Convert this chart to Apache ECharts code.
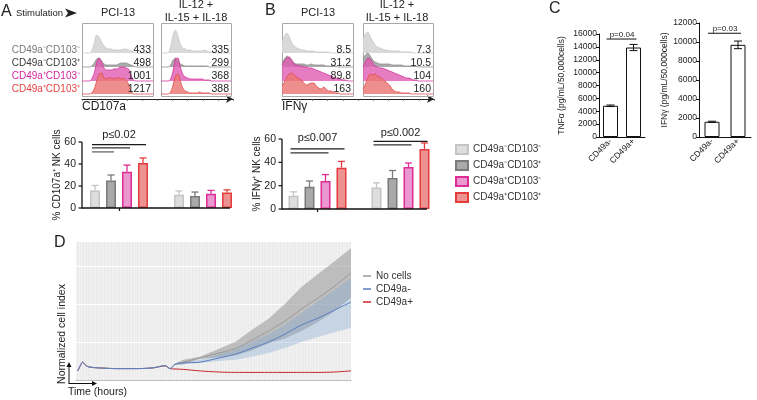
<!DOCTYPE html>
<html><head><meta charset="utf-8">
<script src="https://cdn.jsdelivr.net/npm/echarts@6/dist/echarts.min.js"></script>
<style>html,body{margin:0;padding:0;background:#fff}#c{width:757px;height:400px}</style>
</head><body><div id="c"></div>
<script>
// ================= DATA =================
const histCategories = ['CD49a⁻CD103⁻','CD49a⁻CD103⁺','CD49a⁺CD103⁻','CD49a⁺CD103⁺'];
const stimulations = ['PCI-13','IL-12 + IL-15 + IL-18'];
// histogram densities (30 bins, rows top to bottom)
const histA_PCI = [
 [0,0,0,0,2,10,18,16,11,7,5,4,4,3,3,3,3,4,4,3,2,1,0,0,0,0,0,0,0,0],
 [0,0,0,0,1,4,8,9,6,3,2,2,2,2,2,3,4,4,4,3,2,1,0,0,0,0,0,0,0,0],
 [0,0,0,0,2,8,18,23,19,13,11,11,11,12,12,13,14,14,13,12,6,1,0,0,0,0,0,0,0,0],
 [0,0,0,0,1,5,13,20,21,16,15,16,16,15,16,16,15,16,14,10,3,0,0,0,0,0,0,0,0,0]];
const histA_IL = [
 [0,0,0,0,6,18,23,17,9,5,4,3,3,2,2,2,2,2,3,2,1,1,0,0,0,0,0,0,0,0],
 [0,0,0,0,2,7,9,6,3,2,1,1,1,1,1,1,1,1,1,1,0,0,0,0,0,0,0,0,0,0],
 [0,0,0,0,2,10,22,23,14,7,4,3,2,2,2,2,2,2,1,1,1,0,0,0,0,0,0,0,0,0],
 [0,0,0,0,2,9,18,20,13,6,3,2,1,1,1,1,2,1,1,1,1,0,0,0,0,0,0,0,0,0]];
const histB_PCI = [
 [12,17,20,16,10,7,5,4,3,3,2,2,2,2,1,1,1,1,1,1,0,0,0,0,0,0,0,0,0,0],
 [5,8,11,9,6,4,3,3,3,3,2,2,3,2,2,2,2,2,1,1,1,1,1,0,0,0,0,0,0,0],
 [16,20,23,24,21,17,16,15,15,14,14,13,13,12,11,10,9,8,7,6,5,4,3,2,2,1,1,0,0,0],
 [8,12,17,20,21,19,17,15,14,11,9,10,11,11,8,6,5,7,5,3,3,2,1,1,0,0,0,0,0,0]];
const histB_IL = [
 [14,19,21,16,12,8,6,5,4,3,3,2,2,2,2,2,1,1,1,1,1,0,0,0,0,0,0,0,0,0],
 [8,12,14,11,7,5,4,3,3,3,3,3,2,2,2,2,2,1,1,1,1,1,1,0,0,0,0,0,0,0],
 [14,19,23,22,18,15,14,13,13,12,11,10,9,8,7,6,5,4,3,3,2,1,1,0,0,0,0,0,0,0],
 [5,10,16,20,19,20,18,17,15,13,11,9,5,3,2,2,1,1,1,1,0,0,0,0,0,0,0,0,0,0]];
const mfiA_PCI = ['433','498','1001','1217'];
const mfiA_IL  = ['335','299','368','388'];
const mfiB_PCI = ['8.5','31.2','89.8','163'];
const mfiB_IL  = ['7.3','10.5','104','160'];

// % positive NK cells (mean, SEM) per subset
const pctTicks = [0,20,40,60];
const cd107aPCI = [16,25,33,41];      const cd107aPCIErr = [4.5,5,6,4.5];
const cd107aIL  = [12,11,13,14];      const cd107aILErr  = [3.5,3.5,3,2.5];
const ifngPCI   = [11.3,19,24,35.4];  const ifngPCIErr   = [3.4,5,5.5,5.4];
const ifngIL    = [18.4,26.6,36,51.5];const ifngILErr    = [4,6.4,3.4,5.1];
// significance brackets: [group, fromSubset, toSubset, y]
const sigA = [[0,0,3,57.6],[0,0,2,54.6],[0,0,1,51]];
const sigB = [[0,0,3,51.5],[0,0,2,48.1],[1,0,3,58],[1,0,2,54.9]];
const pTextA = [[0,66.5,'p≤0.02']];
const pTextB = [[0,60.5,'p≤0.007'],[1,65.5,'p≤0.002']];

// panel C
const cCategories = ['CD49a-','CD49a+'];
const tnfaVals = [4850,13900]; const tnfaErr = [120,480];
const ifngVals = [1600,9700];  const ifngErr = [60,400];
const tnfaSig = [[0,1,15220]]; const tnfaP = [[0.5,15850,'p=0.04']];
const ifngSig = [[0,1,10920]]; const ifngP = [[0.5,11440,'p=0.03']];

// panel D (normalized cell index over time)
const times    = [0.6,1.5,2.4,3.6,5,8,15,22,28,32.4,34.2,36,39,45,52,58,64,70,76,82,88,94,100];
const noCells  = [0.24,0.37,0.46,0.38,0.34,0.32,0.30,0.30,0.32,0.38,0.30,0.42,0.47,0.58,0.71,0.83,1.05,1.29,1.55,1.87,2.16,2.47,2.82];
const cd49aNeg = [0.24,0.37,0.47,0.38,0.34,0.32,0.30,0.30,0.32,0.38,0.30,0.41,0.45,0.47,0.58,0.68,0.84,1.00,1.21,1.45,1.63,1.84,2.05];
const cd49aPos = [0.24,0.36,0.47,0.38,0.34,0.32,0.30,0.30,0.32,0.37,0.30,0.29,0.28,0.24,0.21,0.20,0.20,0.20,0.20,0.20,0.20,0.21,0.24];
const bandTimes = [34.2,36,39,45,52,58,64,70,76,82,88,94,100];
const noCellsUpper  = [0.30,0.43,0.53,0.61,0.82,1.01,1.32,1.61,2.01,2.45,2.79,3.13,3.47];
const noCellsLower  = [0.30,0.41,0.41,0.55,0.60,0.65,0.78,0.97,1.09,1.29,1.53,1.81,2.17];
const cd49aNegUpper = [0.30,0.42,0.46,0.53,0.68,0.80,1.00,1.20,1.45,1.76,2.07,2.37,2.68];
const cd49aNegLower = [0.30,0.39,0.42,0.45,0.50,0.53,0.61,0.71,0.84,1.00,1.13,1.26,1.37];
const dSeriesNames = ['No cells','CD49a-','CD49a+'];

// ================= CHART =================
const FONT = '"Liberation Sans", Arial, Helvetica, sans-serif';
const plain = v => String(v);
const grids=[], xAxes=[], yAxes=[], series=[], graphics=[];
function addGrid(g){ g.outerBoundsMode='none'; g.containLabel=false; grids.push(g); return grids.length-1; }
function txt(x,y,text,o){ o=o||{}; return {type:'text', x, y, rotation:o.rot||0, z:50, silent:true,
  style:{text, fontSize:o.size||10, fontFamily:FONT, fill:o.color||'#222', align:o.align||'left', verticalAlign:o.va||'middle'}}; }

// ---- histograms ----
const boxes = [
 {data:histA_PCI, mfi:mfiA_PCI, left:82, width:71},{data:histA_IL, mfi:mfiA_IL, left:161, width:70},
 {data:histB_PCI, mfi:mfiB_PCI, left:282, width:71},{data:histB_IL, mfi:mfiB_IL, left:363, width:70}];
const rowBase = [53,67,81,94], HH = 26, rowTextY = [50,63,76,89];
const histFill = ['rgba(215,215,215,0.95)','rgba(150,150,150,0.8)','rgba(224,92,180,0.8)','rgba(234,118,116,0.82)'];
const histLine = ['#c6c6c6','#8c8c8c','#d2309c','#e04a4a'];
boxes.forEach((b)=>{
  graphics.push({type:'rect', z:1, silent:true, shape:{x:b.left+0.5,y:23.5,width:b.width,height:73}, style:{fill:'none',stroke:'#a8a8a8',lineWidth:1}});
  b.data.forEach((vals,r)=>{
    const gi = addGrid({left:b.left, top:rowBase[r]-HH, width:b.width, height:HH});
    xAxes.push({gridIndex:gi, type:'value', min:0, max:vals.length-1, show:false});
    yAxes.push({gridIndex:gi, type:'value', min:0, max:HH, show:false});
    series.push({type:'line', xAxisIndex:gi, yAxisIndex:gi, silent:true, clip:false, symbol:'none', smooth:0.25,
      data: vals.map((v,i)=>[i,v]), lineStyle:{color:histLine[r], width:0.8}, areaStyle:{color:histFill[r], opacity:1}});
  });
  b.mfi.forEach((m,r)=>graphics.push(txt(b.left+b.width-2, rowTextY[r], m, {size:10.5, align:'right'})));
});
[[82,151],[282,152]].forEach(([l,w])=>{
  const gi = addGrid({left:l, top:60, width:w, height:39});
  xAxes.push({gridIndex:gi, type:'value', min:0, max:50, interval:5,
    axisLine:{show:true, lineStyle:{color:'#222',width:1}, symbol:['none','arrow'], symbolSize:[6,7]},
    axisTick:{show:true, length:2, lineStyle:{color:'#555',width:0.7}}, axisLabel:{show:false}, splitLine:{show:false}});
  yAxes.push({gridIndex:gi, type:'value', min:0, max:1, show:false});
});
const rowColors = ['#777','#3a3a3a','#d6249a','#e8413f'];
histCategories.forEach((c,r)=>graphics.push(txt(80, rowTextY[r], c, {size:10, align:'right', color:rowColors[r]})));

// ---- bar charts A / B ----
const barFill = ['#dedede','#a9a9a9','#eb97d0','#ec9290'];
const barBorder = ['#c4c4c4','#7a7a7a','#dd2c94','#e43c3c'];
const barOff = [-24,-8,8,24];
function addBarChart(cfg){
  const gi = addGrid({left:cfg.left, top:cfg.top, width:cfg.width, height:cfg.height});
  xAxes.push({gridIndex:gi, type:'category', data:stimulations, boundaryGap:true,
    axisLine:{show:false}, axisTick:{show:true, alignWithLabel:true,length:3,lineStyle:{color:'#111',width:1.2}}, axisLabel:{show:false}});
  yAxes.push({gridIndex:gi, type:'value', min:pctTicks[0], max:pctTicks[pctTicks.length-1], show:false});
  // y axis (line, ticks, labels, name) and x axis line drawn from the grid's own scale
  series.push({type:'custom', name:'yaxis', xAxisIndex:gi, yAxisIndex:gi, silent:true, clip:false, z:4,
    data:pctTicks.map(v=>[0,v]), encode:{x:0,y:1},
    renderItem:(p,api)=>{
      const x0 = p.coordSys.x + cfg.axisDx; const v = api.value(1); const y = api.coord([0,v])[1];
      const ch = [
        {type:'line', shape:{x1:x0-3.5,y1:y,x2:x0,y2:y}, style:{stroke:'#111',lineWidth:1.2}},
        {type:'text', x:x0-6, y:y, style:{text:String(v), fontSize:10.5, fill:'#222', fontFamily:FONT, align:'right', verticalAlign:'middle'}}];
      if(p.dataIndex===0){
        const yTop = api.coord([0,pctTicks[pctTicks.length-1]])[1];
        ch.push({type:'line', shape:{x1:x0,y1:y+0.6,x2:x0,y2:yTop}, style:{stroke:'#111',lineWidth:1.3}});
        ch.push({type:'line', shape:{x1:x0,y1:y,x2:x0+cfg.axisWidth,y2:y}, style:{stroke:'#111',lineWidth:1.3}});
        ch.push({type:'text', x:x0-25, y:(y+yTop)/2, rotation:Math.PI/2,
          style:{text:cfg.yName, fontSize:10, fill:'#222', fontFamily:FONT, align:'center', verticalAlign:'middle'}});
      }
      return {type:'group', children:ch}; }});
  for(let i=0;i<4;i++) series.push({type:'bar', name:histCategories[i], xAxisIndex:gi, yAxisIndex:gi, barWidth:10, barGap:'60%',
      data:[cfg.pci[i], cfg.il[i]], itemStyle:{color:barFill[i], borderColor:barBorder[i], borderWidth:1.5}, silent:true});
  for(let i=0;i<4;i++){
    const off = barOff[i], col = barBorder[i];
    series.push({type:'custom', name:'err'+i, xAxisIndex:gi, yAxisIndex:gi, silent:true, clip:false, z:3,
      data:[[0,cfg.pci[i],cfg.pciErr[i]],[1,cfg.il[i],cfg.ilErr[i]]], encode:{x:0,y:1},
      renderItem:(p,api)=>{ const a=api.coord([api.value(0),api.value(1)]), t=api.coord([api.value(0),api.value(1)+api.value(2)]);
        const x=a[0]+off; return {type:'group',children:[
          {type:'line',shape:{x1:x,y1:a[1],x2:x,y2:t[1]},style:{stroke:col,lineWidth:1.3}},
          {type:'line',shape:{x1:x-3.5,y1:t[1],x2:x+3.5,y2:t[1]},style:{stroke:col,lineWidth:1.3}}]}; }});
  }
  const sigCols = ['#1a1a1a','#333','#666'];
  series.push({type:'custom', name:'sig', xAxisIndex:gi, yAxisIndex:gi, silent:true, clip:false, data:cfg.sig, encode:{x:0,y:3},
    renderItem:(p,api)=>{ const c=api.coord([api.value(0),api.value(3)]);
      const ranked = cfg.sig.filter(s=>s[0]===api.value(0)).map(s=>s[3]).sort((a,b)=>b-a);
      const rank = ranked.indexOf(api.value(3));
      return {type:'line', shape:{x1:c[0]+barOff[api.value(1)]-3, y1:c[1], x2:c[0]+barOff[api.value(2)]+3, y2:c[1]},
        style:{stroke:sigCols[rank]||'#555', lineWidth:1.3}}; }});
  series.push({type:'custom', name:'ptext', xAxisIndex:gi, yAxisIndex:gi, silent:true, clip:false, data:cfg.p.map(d=>[d[0],d[1]]), encode:{x:0,y:1},
    renderItem:(p,api)=>{ const c=api.coord([api.value(0),api.value(1)]);
      return {type:'text', x:c[0], y:c[1], style:{text:cfg.p[p.dataIndex][2], fontSize:11, fill:'#222', fontFamily:FONT, align:'center', verticalAlign:'middle'}}; }});
}
addBarChart({axisDx:5, axisWidth:148, left:77, top:142, width:168, height:66, yName:'% CD107a⁺ NK cells',
  pci:cd107aPCI, pciErr:cd107aPCIErr, il:cd107aIL, ilErr:cd107aILErr, sig:sigA, p:pTextA});
addBarChart({axisDx:6, axisWidth:145, left:276, top:139, width:166, height:70, yName:'% IFNγ⁺ NK cells',
  pci:ifngPCI, pciErr:ifngPCIErr, il:ifngIL, ilErr:ifngILErr, sig:sigB, p:pTextB});

// ---- panel C ----
function addC(cfg){
  const gi = addGrid({left:cfg.left, top:cfg.top, width:cfg.width, height:cfg.height});
  xAxes.push({gridIndex:gi, type:'category', data:cCategories, boundaryGap:true,
    axisLine:{lineStyle:{color:'#111',width:1}}, axisTick:{alignWithLabel:true,length:3,lineStyle:{color:'#111'}},
    axisLabel:{rotate:45, fontSize:8.5, color:'#222', margin:3, fontFamily:FONT}});
  yAxes.push({gridIndex:gi, type:'value', min:0, max:cfg.max, interval:2000,
    axisLine:{show:true,lineStyle:{color:'#111',width:1}}, axisTick:{show:true,length:3,lineStyle:{color:'#111'}},
    axisLabel:{fontSize:8.5, color:'#222', margin:2, fontFamily:FONT, formatter:plain}, splitLine:{show:false},
    name:cfg.yName, nameLocation:'middle', nameGap:cfg.nameGap, nameTextStyle:{fontSize:8.5,color:'#222',fontFamily:FONT}});
  series.push({type:'bar', name:'c'+gi, xAxisIndex:gi, yAxisIndex:gi, barWidth:15, silent:true,
    data:cfg.vals, itemStyle:{color:'#fff', borderColor:'#111', borderWidth:1}});
  series.push({type:'custom', name:'cerr'+gi, xAxisIndex:gi, yAxisIndex:gi, silent:true, clip:false, z:3,
    data:cfg.vals.map((v,i)=>[i,v,cfg.err[i]]), encode:{x:0,y:1},
    renderItem:(p,api)=>{ const hi=api.coord([api.value(0),api.value(1)+api.value(2)]), lo=api.coord([api.value(0),api.value(1)-api.value(2)]);
      const x=hi[0]; return {type:'group',children:[
        {type:'line',shape:{x1:x,y1:hi[1],x2:x,y2:lo[1]},style:{stroke:'#111',lineWidth:1}},
        {type:'line',shape:{x1:x-4,y1:hi[1],x2:x+4,y2:hi[1]},style:{stroke:'#111',lineWidth:1}},
        {type:'line',shape:{x1:x-4,y1:lo[1],x2:x+4,y2:lo[1]},style:{stroke:'#111',lineWidth:1}}]}; }});
  series.push({type:'custom', name:'csig'+gi, xAxisIndex:gi, yAxisIndex:gi, silent:true, clip:false, data:cfg.sig, encode:{x:0,y:2},
    renderItem:(p,api)=>{ const a=api.coord([api.value(0),api.value(2)]), b=api.coord([api.value(1),api.value(2)]);
      return {type:'line', shape:{x1:a[0]-4,y1:a[1],x2:b[0]+3,y2:b[1]}, style:{stroke:'#111',lineWidth:1}}; }});
  series.push({type:'custom', name:'cp'+gi, xAxisIndex:gi, yAxisIndex:gi, silent:true, clip:false, data:cfg.p.map(d=>[0,d[1]]), encode:{x:0,y:1},
    renderItem:(p,api)=>{ const a=api.coord([0,api.value(1)]), b=api.coord([1,api.value(1)]);
      return {type:'text', x:(a[0]+b[0])/2, y:a[1], style:{text:cfg.p[p.dataIndex][2], fontSize:8, fill:'#222', fontFamily:FONT, align:'center', verticalAlign:'middle'}}; }});
}
addC({left:599, top:34, width:46, height:103, max:16000, vals:tnfaVals, err:tnfaErr, sig:tnfaSig, p:tnfaP, yName:'TNFα (pg/mL/50,000cells)', nameGap:33});
addC({left:699, top:23, width:52, height:114, max:12000, vals:ifngVals, err:ifngErr, sig:ifngSig, p:ifngP, yName:'IFNγ (pg/mL/50,000cells)', nameGap:27});

// ---- panel D ----
const dI = addGrid({left:76, top:241, width:275, height:139, show:true, backgroundColor:'#ececec', borderWidth:0});
xAxes.push({gridIndex:dI, type:'value', min:0, max:100, interval:1,
  axisLine:{show:true, lineStyle:{color:'#b0b0b0', type:'dotted', width:1}}, axisTick:{show:false}, axisLabel:{show:false},
  splitLine:{show:true, lineStyle:{color:'rgba(255,255,255,0.5)', width:0.7}}});
yAxes.push({gridIndex:dI, type:'value', min:0, max:3.66, interval:1, axisLine:{show:false}, axisTick:{show:false}, axisLabel:{show:false},
  splitLine:{show:true, lineStyle:{color:'#ffffff', width:1}}});
function band(lower, upper, color){
  series.push({type:'custom', name:'band', xAxisIndex:dI, yAxisIndex:dI, silent:true, clip:true,
    data:bandTimes.map((t,i)=>[t,lower[i],upper[i]]), encode:{x:0,y:[1,2]},
    renderItem:(p,api)=>{ if(p.dataIndex!==0) return;
      const pts=[]; bandTimes.forEach((t,i)=>pts.push(api.coord([t,upper[i]])));
      for(let i=bandTimes.length-1;i>=0;i--) pts.push(api.coord([bandTimes[i],lower[i]]));
      return {type:'polygon', shape:{points:pts}, style:{fill:color}}; }});
}
band(noCellsLower, noCellsUpper, 'rgba(140,140,140,0.5)');
band(cd49aNegLower, cd49aNegUpper, 'rgba(130,165,210,0.35)');
const dColors = ['#9a9a9a','#5a7ec2','#c4262c'];
const dData = [noCells, cd49aNeg, cd49aPos];
[2,0,1].forEach((k)=>{ const arr = dData[k];
  series.push({type:'line', name:dSeriesNames[k], xAxisIndex:dI, yAxisIndex:dI, silent:true, symbol:'none', smooth:0.3,
    color:dColors[k], itemStyle:{color:dColors[k]}, lineStyle:{color:dColors[k], width:1}, data:times.map((t,i)=>[t,arr[i]])}); });

// ---- texts & decorations ----
graphics.push(txt(1,12,'A',{size:16}));
graphics.push(txt(265,11,'B',{size:16}));
graphics.push(txt(549,9,'C',{size:16}));
graphics.push(txt(54,243,'D',{size:16}));
graphics.push(txt(16,13,'Stimulation',{size:9.5}));
graphics.push({type:'polygon', z:50, silent:true, shape:{points:[[65,8.5],[77,13],[65,17.5],[68,13]]}, style:{fill:'#222'}});
graphics.push(txt(118,13,stimulations[0],{size:11,align:'center'}));
graphics.push(txt(196,5,'IL-12 +',{size:11,align:'center'}));
graphics.push(txt(196,17.5,'IL-15 + IL-18',{size:11,align:'center'}));
graphics.push(txt(318,13,stimulations[0],{size:11,align:'center'}));
graphics.push(txt(397,5,'IL-12 +',{size:11,align:'center'}));
graphics.push(txt(397,17.5,'IL-15 + IL-18',{size:11,align:'center'}));
graphics.push(txt(82,107,'CD107a',{size:12}));
graphics.push(txt(282,107,'IFNγ',{size:12}));
graphics.push(txt(62,334,'Normalized cell index',{size:10.5,align:'center',rot:Math.PI/2}));
graphics.push(txt(68,392,'Time (hours)',{size:10.5}));
graphics.push({type:'line', z:50, silent:true, shape:{x1:69,y1:383.5,x2:69,y2:366}, style:{stroke:'#111',lineWidth:1}});
graphics.push({type:'polygon', z:50, silent:true, shape:{points:[[66.5,367],[69,362],[71.5,367]]}, style:{fill:'#111'}});
graphics.push({type:'line', z:50, silent:true, shape:{x1:68.5,y1:383.5,x2:93,y2:383.5}, style:{stroke:'#111',lineWidth:1}});
graphics.push({type:'polygon', z:50, silent:true, shape:{points:[[92,381],[97,383.5],[92,386]]}, style:{fill:'#111'}});

const chart = echarts.init(document.getElementById('c'));
chart.setOption({
  animation:false, backgroundColor:'#fff', textStyle:{fontFamily:FONT},
  grid:grids, xAxis:xAxes, yAxis:yAxes, series:series,
  legend:[
    {data:histCategories, left:450, top:139, orient:'vertical', icon:'rect', itemWidth:12, itemHeight:9, itemGap:5,
      selectedMode:false, textStyle:{fontSize:10, color:'#333', fontFamily:FONT}},
    {data:dSeriesNames, left:358, top:265, orient:'vertical', icon:'rect', itemWidth:8, itemHeight:1.5, itemGap:1,
      selectedMode:false, textStyle:{fontSize:10, color:'#333', lineHeight:12, fontFamily:FONT}}],
  graphic:graphics
});
</script></body></html>
